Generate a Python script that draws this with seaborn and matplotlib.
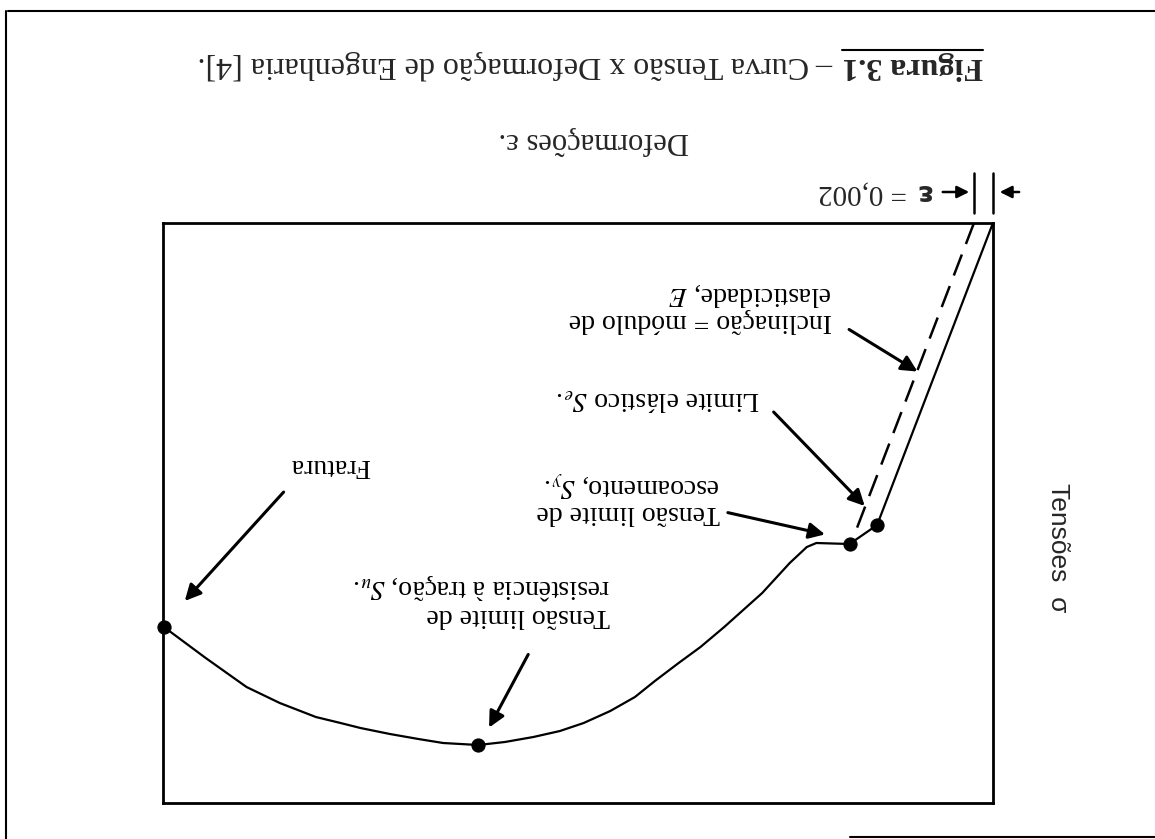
import numpy as np
import pandas as pd
import matplotlib.pyplot as plt
import seaborn as sns
from matplotlib.lines import Line2D

# ------------------------------
#   Curva tensao x deformacao (figura escaneada de cabeca para baixo)
# ------------------------------
strain = [0, 0.0122, 0.0151, 0.0186, 0.0196, 0.0214, 0.0243, 0.0283, 0.0308,
          0.0331, 0.0356, 0.0377, 0.0403, 0.0431, 0.0456, 0.0484, 0.0514, 0.0542,
          0.0579, 0.0605, 0.0635, 0.0666, 0.0687, 0.0713, 0.0751, 0.0786, 0.0829,
          0.0873]
stress = [0, 302, 321, 320, 324, 340, 370, 404, 424,
          440, 458, 474, 488, 500, 508, 514, 519, 522,
          520, 516, 511, 505, 500, 494, 480, 464, 435,
          404]

# pontos marcados: limite elastico, escoamento, resistencia, fratura
mark_strain = [0.0122, 0.0151, 0.0542, 0.0873]
mark_stress = [302, 321, 522, 404]

offset = 0.002          # deformacao de 0,2 %
offset_top = 315        # ate onde vai a reta tracejada

labels = ["Fratura",
          "Tensão limite de\nresistência à tração, $S_u$.",
          "Tensão limite de\nescoamento, $S_y$.",
          "Limite elástico $S_e$.",
          "Inclinação = módulo de\nelasticidade, $E$"]
label_x = [0.0656, 0.0403, 0.0287, 0.0245, 0.0169]
label_y = [242, 377, 274, 176, 84]
arrow_tail_x = [0.0745, 0.0488, 0.0282, 0.0233, 0.0154]
arrow_tail_y = [267, 429, 289, 187, 105]
arrow_head_x = [0.0853, 0.0532, 0.0174, 0.0133, 0.0077]
arrow_head_y = [380, 507, 312, 285, 150]

curve = pd.DataFrame({"strain": strain, "stress": stress})
marks = pd.DataFrame({"strain": mark_strain, "stress": mark_stress})

sns.set_theme(style="white")
plt.rcParams["font.family"] = ["Liberation Serif", "DejaVu Serif"]
plt.rcParams["mathtext.fontset"] = "stix"

fig = plt.figure(figsize=(11.55, 8.39), dpi=100)
ax = fig.add_axes([0.1411, 0.0429, 0.7186, 0.6913])

sns.lineplot(data=curve, x="strain", y="stress", sort=False, color="black",
             linewidth=1.6, ax=ax)
sns.scatterplot(data=marks, x="strain", y="stress", color="black", s=90,
                edgecolor="black", zorder=5, clip_on=False, ax=ax)

# reta paralela deslocada de 0,002
slope = stress[1] / strain[1]
ax.plot([offset, offset + offset_top / slope], [0, offset_top], color="black",
        linewidth=1.8, dashes=(9, 4.5))

# cota do deslocamento acima do grafico
for xb in [0, offset]:
    ax.plot([xb, xb], [-50, -10], color="black", linewidth=1.8, clip_on=False)
ax.annotate("", xy=(0.00221, -31), xytext=(0.00558, -31),
            arrowprops=dict(arrowstyle="-|>", color="black", lw=1.8, mutation_scale=18),
            annotation_clip=False)
ax.annotate("", xy=(-0.00042, -31), xytext=(-0.00305, -31),
            arrowprops=dict(arrowstyle="-|>", color="black", lw=1.8, mutation_scale=18),
            annotation_clip=False)

for txt, tx, ty, ax0, ay0, hx, hy in zip(labels, label_x, label_y, arrow_tail_x,
                                         arrow_tail_y, arrow_head_x, arrow_head_y):
    ax.text(tx, ty, txt, rotation=180, ha="right", va="center",
            multialignment="left", fontsize=20, color="black", linespacing=1.05)
    ax.annotate("", xy=(hx, hy), xytext=(ax0, ay0),
                arrowprops=dict(arrowstyle="-|>", color="black", lw=2.2,
                                mutation_scale=24))

ax.set_xlim(0.0874, 0)
ax.set_ylim(580, 0)
ax.set_xlabel("")
ax.set_ylabel("")
ax.set_xticks([])
ax.set_yticks([])
for sp in ax.spines.values():
    sp.set_color("black")
    sp.set_linewidth(2)

# textos fora do grafico
fig.text(0.7995, 0.771, "ε", rotation=180, ha="center", va="center", fontsize=21,
         weight="bold", family=["DejaVu Sans"])
fig.text(0.7853, 0.771, "= 0,002", rotation=180, ha="right", va="center", fontsize=21)
fig.text(0.514, 0.832, "Deformações ε.", rotation=180, ha="center", va="center", fontsize=22)
fig.text(0.916, 0.347, "Tensões  σ", rotation=270, ha="center", va="center",
         fontsize=19, family=["Liberation Sans", "DejaVu Sans"])
fig.text(0.8511, 0.9225, "Figura 3.1", rotation=180, ha="right", va="center",
         fontsize=23, weight="bold")
fig.text(0.7212, 0.9225, "– Curva Tensão x Deformação de Engenharia [4].", rotation=180,
         ha="right", va="center", fontsize=23)
fig.add_artist(Line2D([0.729, 0.851], [0.9404, 0.9404], color="black", linewidth=1.5))

# moldura da pagina
fig.add_artist(Line2D([0.007, 1.0], [0.987, 0.987], color="black", linewidth=1.5))
fig.add_artist(Line2D([0.005, 0.005], [0.0, 0.987], color="black", linewidth=1.5))
fig.add_artist(Line2D([0.736, 1.0], [0.0024, 0.0024], color="black", linewidth=1.5))

fig.savefig("out.png", dpi=100, facecolor="white")
